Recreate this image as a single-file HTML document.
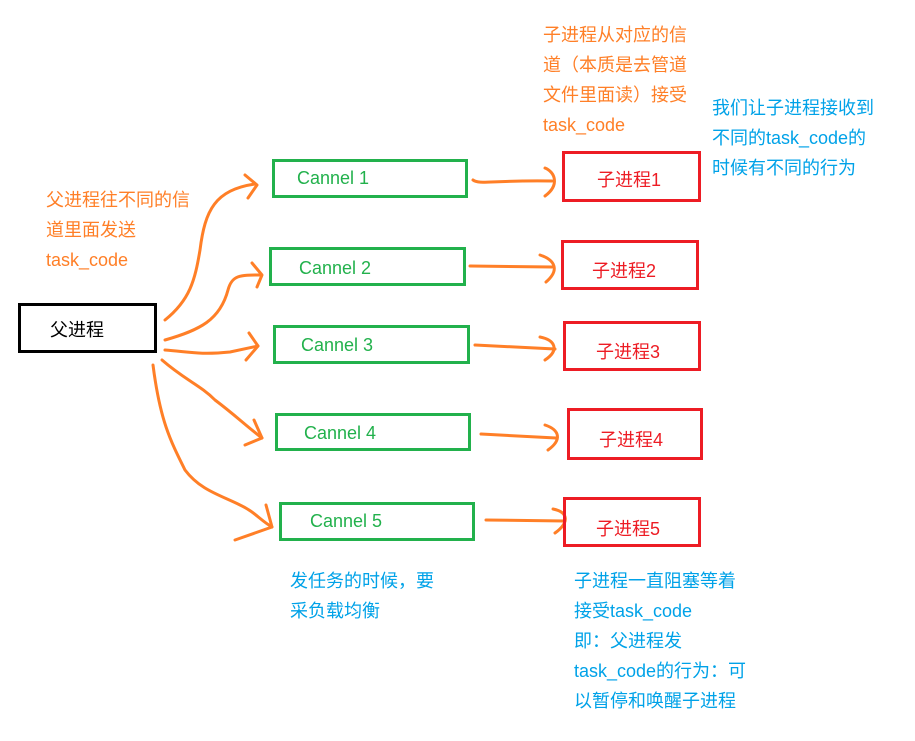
<!DOCTYPE html>
<html><head><meta charset="utf-8"><style>
body{margin:0;width:915px;height:741px;background:#fff;position:relative;overflow:hidden;font-family:"Liberation Sans","Noto Sans CJK SC",sans-serif;}
.b{position:absolute;box-sizing:border-box;border:3px solid;font-size:18px;}
.g{border-color:#22b14c;color:#22b14c;}
.r{border-color:#ed1c24;color:#ed1c24;}
.t{position:absolute;font-size:18px;line-height:30px;white-space:nowrap;}
.o{color:#ff7f27}.bl{color:#00a2e8}
svg{position:absolute;left:0;top:0}
</style></head><body>
<svg width="915" height="741" fill="none" stroke="#ff7f27" stroke-width="3" stroke-linecap="round" stroke-linejoin="round">
<path d="M165 320 C190 300,195 280,200 250 C205 210,215 190,255 184"/>
<path d="M245 175 L257 185 L248 198"/>
<path d="M165 340 C200 330,220 320,228 290 C232 275,240 275,260 275"/>
<path d="M252 263 L262 275 L257 287"/>
<path d="M165 350 C190 352,200 355,230 352 L258 346"/>
<path d="M249 333 L258 346 L246 360"/>
<path d="M162 360 C185 380,200 385,215 400 C235 415,245 425,262 438"/>
<path d="M254 420 L262 438 L245 445"/>
<path d="M153 365 C160 420,170 440,185 470 C200 490,220 495,240 505 C255 512,260 520,272 527"/>
<path d="M266 505 L272 527 L235 540"/>
<path d="M473 180 C480 185,490 180,552 181"/>
<path d="M545 168 C555 172,560 185,545 196"/>
<path d="M470 266 L552 267"/>
<path d="M540 255 C555 260,560 270,546 282"/>
<path d="M475 345 L555 349"/>
<path d="M540 337 C555 340,560 350,545 360"/>
<path d="M481 434 L556 438"/>
<path d="M545 425 C560 430,562 440,548 450"/>
<path d="M486 520 L565 521"/>
<path d="M553 509 C568 512,570 522,555 533"/>
</svg>
<div class="b" style="left:18px;top:303px;width:139px;height:50px;border-color:#000;color:#000;padding:10px 0 0 29px;">父进程</div>
<div class="b g" style="left:272px;top:159px;width:196px;height:39px;padding:6px 0 0 22px;">Cannel 1</div>
<div class="b g" style="left:269px;top:247px;width:197px;height:39px;padding:8px 0 0 27px;">Cannel 2</div>
<div class="b g" style="left:273px;top:325px;width:197px;height:39px;padding:7px 0 0 25px;">Cannel 3</div>
<div class="b g" style="left:275px;top:413px;width:196px;height:38px;padding:7px 0 0 26px;">Cannel 4</div>
<div class="b g" style="left:279px;top:502px;width:196px;height:39px;padding:6px 0 0 28px;">Cannel 5</div>
<div class="b r" style="left:562px;top:151px;width:139px;height:51px;padding:12px 0 0 32px;">子进程1</div>
<div class="b r" style="left:561px;top:240px;width:138px;height:50px;padding:14px 0 0 28px;">子进程2</div>
<div class="b r" style="left:563px;top:321px;width:138px;height:50px;padding:14px 0 0 30px;">子进程3</div>
<div class="b r" style="left:567px;top:408px;width:136px;height:52px;padding:15px 0 0 29px;">子进程4</div>
<div class="b r" style="left:563px;top:497px;width:138px;height:50px;padding:15px 0 0 30px;">子进程5</div>
<div class="t o" style="left:46px;top:185px;">父进程往不同的信<br>道里面发送<br>task_code</div>
<div class="t o" style="left:543px;top:20px;">子进程从对应的信<br>道（本质是去管道<br>文件里面读）接受<br>task_code</div>
<div class="t bl" style="left:712px;top:93px;">我们让子进程接收到<br>不同的task_code的<br>时候有不同的行为</div>
<div class="t bl" style="left:290px;top:566px;">发任务的时候，要<br>采负载均衡</div>
<div class="t bl" style="left:574px;top:566px;">子进程一直阻塞等着<br>接受task_code<br>即：父进程发<br>task_code的行为：可<br>以暂停和唤醒子进程</div>
</body></html>
